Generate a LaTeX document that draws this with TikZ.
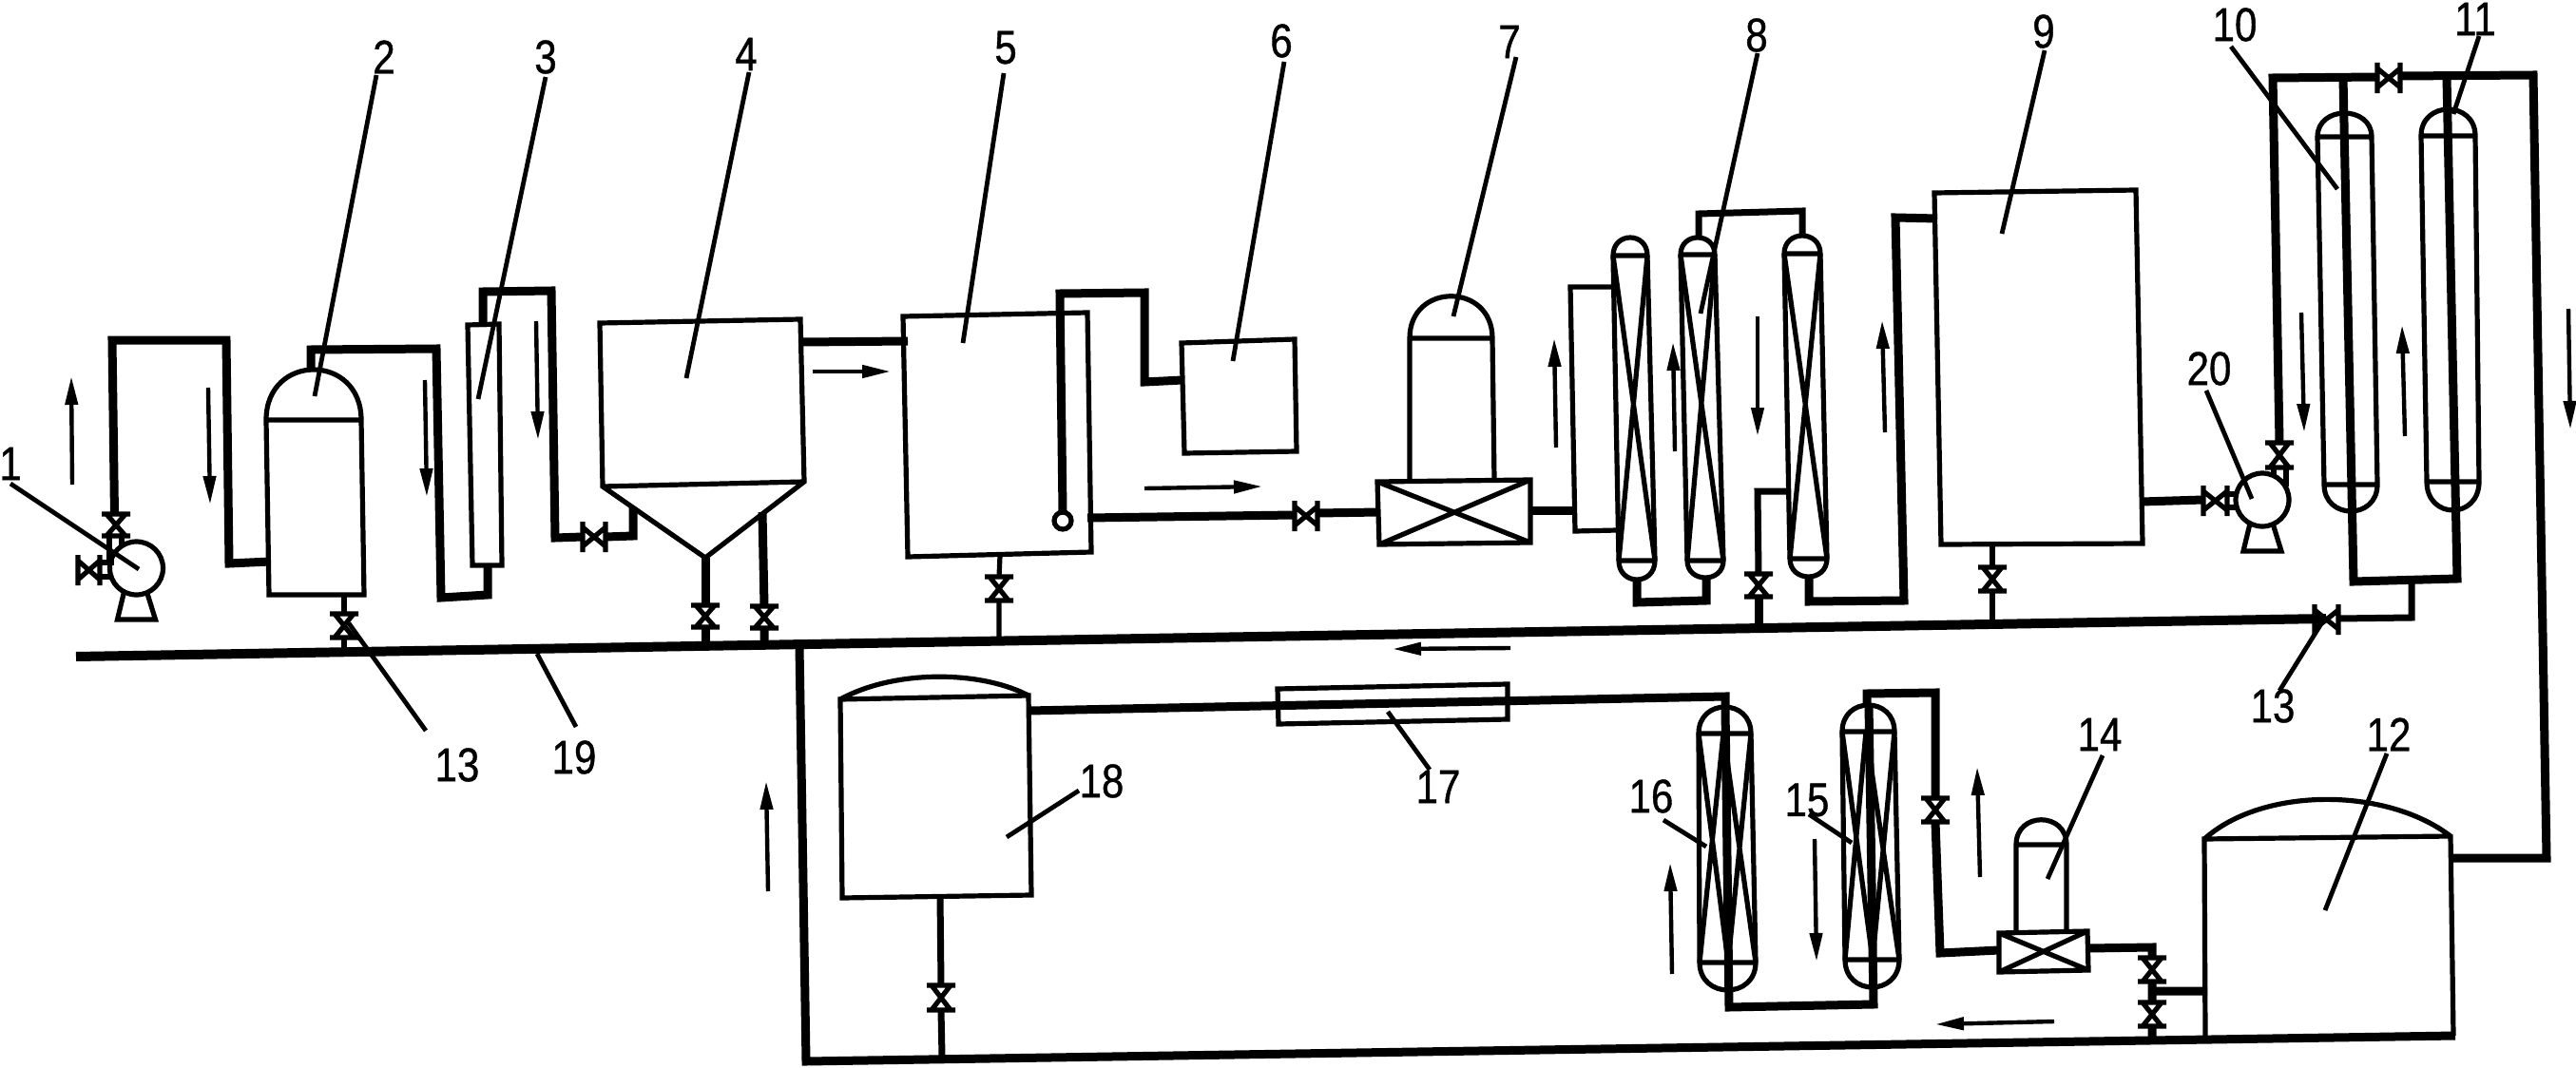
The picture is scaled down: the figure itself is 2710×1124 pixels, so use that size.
\documentclass[tikz,border=0pt]{standalone}
\usepackage{fontspec}
\setmainfont{Liberation Sans}
\newfontfamily\labfont[FakeStretch=0.84,FakeBold=0.8]{Liberation Sans}
\usetikzlibrary{arrows.meta}
\tikzset{
 wall/.style={line width=5.2pt,line join=miter},
 pipe/.style={line width=9pt,line join=miter},
 midpipe/.style={line width=7pt,line join=miter},
 leader/.style={line width=4.8pt},
 flow/.style={line width=4.4pt,-{Triangle[length=30pt,width=13pt]}},
 lab/.style={font=\labfont\fontsize{50}{54}\selectfont,inner sep=0pt},
}
\newcommand{\vvalve}[3]{%
 \draw[wall] (#1-15,#2)--(#1+15,#2) (#1-15,#3)--(#1+15,#3)
  (#1-10,#2)--(#1+10,#3) (#1+10,#2)--(#1-10,#3);}
\newcommand{\hvalve}[3]{%
 \draw[wall] (#1,#2-16)--(#1,#2+16) (#3,#2-16)--(#3,#2+16)
  (#1,#2-10)--(#3,#2+10) (#1,#2+10)--(#3,#2-10);}
\newcommand{\capsule}[8]{%
 \draw[wall] (#1,#6) .. controls (#1,{#6-(#6-#5)*4/3}) and (#2,{#6-(#6-#5)*4/3}) .. (#2,#6)
   -- (#4,#7) .. controls (#4,{#7+(#8-#7)*4/3}) and (#3,{#7+(#8-#7)*4/3}) .. (#3,#7) -- cycle
   (#1,#6)--(#2,#6) (#3,#7)--(#4,#7);}
\newcommand{\crossin}[6]{%
 \draw[wall] (#1,#5)--(#4,#6) (#2,#5)--(#3,#6);}
\newcommand{\pumpat}[3]{%
 \draw[wall] (#1,#2) circle (#3);
 \draw[wall] (#1-13,#2+#3-3)--(#1-20,#2+#3+26)--(#1+20,#2+#3+26)--(#1+11,#2+#3-3);}
\begin{document}
\begin{tikzpicture}[x=1pt,y=-1pt]
\useasboundingbox (0,0) rectangle (2710,1124);
% main header 19
\draw[line width=10pt] (80,691)--(2447,651);
\draw[midpipe] (2460,651)--(2537,650)--(2537,613);
\hvalve{2435}{652}{2460}
% bottom loop
\draw[pipe] (841,680)--(848,1117)--(2583,1090);
% pump 1
\pumpat{143.5}{598}{28}
\draw[pipe] (120.5,542)--(118,358)--(238,358)--(241,593)--(284,591);
\vvalve{122}{541}{564}
\draw[wall] (115,564)--(115,590) (128,564)--(128,575);
\hvalve{82}{600}{105}
\draw[wall] (105,592)--(120,592) (105,607)--(116,607);
% tank 2
\capsule{280}{380}{283}{383}{389}{442}{626}{626}
\draw[pipe] (327,390)--(327,368)--(459,367)--(464,629)--(513,626)--(513,594);
\draw[wall] (362,626)--(362,646) (362,671)--(362,684);
\vvalve{362}{646}{671}
% column 3
\draw[wall] (492,342)--(525,341)--(528,595)--(497,595)--cycle;
\draw[pipe] (508,344)--(508,307)--(580,306)--(584,566)--(613,565);
\hvalve{613}{565}{637}
\draw[pipe] (637,565)--(666,564)--(666,534);
% tank 4
\draw[wall] (631,340)--(842,336)--(846,507)--(742,587)--(634,512)--cycle (634,512)--(846,507);
\draw[pipe] (742,587)--(742,637) (742,660)--(742,678);
\vvalve{742}{637}{660}
\draw[pipe] (802,539)--(804,638) (804,661)--(804,675);
\vvalve{804}{638}{661}
\draw[pipe] (844,360)--(955,359);
% tank 5
\draw[wall] (950,333)--(1144,329)--(1148,581)--(955,586)--cycle;
\draw[pipe] (1118,538)--(1115,309)--(1204,308)--(1204,402)--(1244,400);
\draw[wall,fill=white] (1118,548) circle (9);
\draw[wall] (1052,585)--(1051,607) (1051,632)--(1051,672);
\vvalve{1051}{607}{632}
\draw[pipe] (1144,545)--(1362,542);
\hvalve{1362}{543}{1386}
\draw[pipe] (1386,540)--(1451,539);
% tank 6
\draw[wall] (1243,361)--(1362,357)--(1364,475)--(1246,477)--cycle;
% reactor 7
\draw[wall] (1483,505)--(1483,356) .. controls (1483,297) and (1570,297) .. (1570,356)--(1572,505) (1483,356)--(1570,356);
\draw[wall] (1449,507)--(1610,505)--(1610,571)--(1451,573)--cycle (1449,507)--(1610,571) (1610,505)--(1451,573);
\draw[pipe] (1609,537)--(1657,537);
\draw[wall] (1698,302)--(1652,302)--(1657,559)--(1701,558);
% columns 8
\capsule{1697}{1733}{1703}{1741}{250}{269}{590}{610}
\crossin{1697}{1733}{1703}{1741}{269}{590}
\capsule{1768}{1804}{1775}{1813}{250}{268}{590}{608}
\crossin{1768}{1804}{1775}{1813}{268}{590}
\capsule{1877}{1915}{1883}{1922}{248}{267}{588}{607}
\crossin{1877}{1915}{1883}{1922}{267}{588}
\draw[pipe] (1722,610)--(1722,634)--(1795,632)--(1795,608);
\draw[midpipe] (1787,250)--(1787,225)--(1896,222)--(1896,248);
\draw[midpipe] (1883,517)--(1849,517)--(1850,604);
\vvalve{1850}{604}{628}
\draw[pipe] (1850,628)--(1850,658);
\draw[pipe] (1903,607)--(1903,633)--(2003,632)--(1994,229)--(2038,230);
% tank 9
\draw[wall] (2035,203)--(2247,200)--(2254,572)--(2042,573)--cycle;
\draw[wall] (2096,573)--(2096,597) (2096,622)--(2096,656);
\vvalve{2096}{597}{622}
\draw[pipe] (2253,528)--(2318,526);
\hvalve{2318}{527}{2343}
% pump 20
\pumpat{2380}{526}{28}
\draw[wall] (2343,520)--(2354,520) (2343,534)--(2353,534);
\draw[pipe] (2398,466)--(2391,82)--(2501,81) (2525,80)--(2665,79)--(2679,903)--(2578,903);
\hvalve{2501}{82}{2525}
\vvalve{2398}{466}{492}
\draw[wall] (2392,492)--(2392,500) (2405,492)--(2405,512);
% columns 10, 11
\capsule{2438}{2495}{2445}{2501}{119}{144}{510}{538}
\capsule{2547}{2604}{2553}{2608}{115}{143}{507}{537}
\draw[pipe] (2465,82)--(2476,612)--(2585,609)--(2574,82);
% tank 12
\draw[wall] (2319,883) .. controls (2380,828) and (2510,828) .. (2578,880)--(2581,1090) (2320,1092)--(2319,883)--(2578,880);
% reactor 14
\draw[wall] (2121,982)--(2121,889) .. controls (2121,854) and (2174,854) .. (2174,889)--(2174,980) (2121,889)--(2174,889);
\draw[wall] (2103,982)--(2196,980)--(2197,1021)--(2103,1023)--cycle (2103,982)--(2197,1021) (2196,980)--(2103,1023);
\draw[pipe] (2197,998)--(2264,997)--(2264,1008) (2264,1033)--(2264,1055) (2264,1043)--(2322,1043) (2264,1080)--(2264,1092);
\vvalve{2264}{1008}{1033}
\vvalve{2264}{1055}{1080}
% columns 15, 16
\capsule{1938}{1993}{1941}{1998}{742}{770}{1010}{1039}
\draw[wall] (1938,770)--(1970,1010) (1993,770)--(1970,1010) (1963,770)--(1941,1010) (1963,770)--(1998,1010);
\capsule{1787}{1842}{1788}{1847}{744}{772}{1013}{1042}
\draw[wall] (1787,772)--(1818,1013) (1842,772)--(1818,1013) (1813,772)--(1788,1013) (1813,772)--(1847,1013);
\draw[pipe] (1815,745)--(1819,1060)--(1971,1057)--(1966,742);
\draw[pipe] (1964,742)--(1964,730)--(2036,729)--(2036,840);
\vvalve{2036}{840}{865}
\draw[pipe] (2036,865)--(2041,1003)--(2103,1000);
% line 17, tank 18
\draw[wall] (1344,725)--(1586,720)--(1586,757)--(1345,762)--cycle;
\draw[pipe] (1082,748)--(1815,733)--(1815,745);
\draw[wall] (884,736)--(1082,732)--(1085,942)--(886,945)--cycle;
\draw[wall] (884,736) .. controls (940,705) and (1030,705) .. (1082,732);
\draw[midpipe] (989,942)--(990,1037) (990,1063)--(991,1112);
\vvalve{990}{1037}{1063}
% flow arrows
\draw[flow] (76,510)--(75,396);
\draw[flow] (219,408)--(221,531);
\draw[flow] (447,400)--(449,523);
\draw[flow] (564,338)--(566,463);
\draw[flow] (855,391)--(937,391);
\draw[flow] (1204,514)--(1328,512);
\draw[flow] (1637,471)--(1635,356);
\draw[flow] (1762,475)--(1760,360);
\draw[flow] (1849,333)--(1849,459);
\draw[flow] (1983,455)--(1980,337);
\draw[flow] (2421,329)--(2424,455);
\draw[flow] (2530,459)--(2527,342);
\draw[flow] (2702,325)--(2704,452);
\draw[flow] (1589,682)--(1465,683);
\draw[flow] (808,938)--(806,822);
\draw[flow] (1759,1025)--(1757,908);
\draw[flow] (1909,883)--(1911,1012);
\draw[flow] (2083,923)--(2080,807);
\draw[flow] (2161,1075)--(2036,1078);
% labels
\node[lab] (n1) at (11,488) {1};
\node[lab] (n2) at (404,60) {2};
\node[lab] (n3) at (574,60) {3};
\node[lab] (n4) at (785,57) {4};
\node[lab] (n5) at (1058,50) {5};
\node[lab] (n6) at (1348,43) {6};
\node[lab] (n7) at (1588,44) {7};
\node[lab] (n8) at (1848,37) {8};
\node[lab] (n9) at (2150,33) {9};
\node[lab] (n10) at (2351,26) {10};
\node[lab] (n11) at (2604,20) {11};
\node[lab] (n12) at (2513,773) {12};
\node[lab] (n13a) at (481,805) {13};
\node[lab] (n13b) at (2391,743) {13};
\node[lab] (n14) at (2209,773) {14};
\node[lab] (n15) at (1901,842) {15};
\node[lab] (n16) at (1737,838) {16};
\node[lab] (n17) at (1513,828) {17};
\node[lab] (n18) at (1159,822) {18};
\node[lab] (n19) at (604,797) {19};
\node[lab] (n20) at (2324,388) {20};
% leaders
\draw[leader] (11,509)--(146,599);
\draw[leader] (396,79)--(331,417);
\draw[leader] (574,81)--(503,420);
\draw[leader] (788,76)--(722,398);
\draw[leader] (1056,77)--(1013,361);
\draw[leader] (1351,65)--(1297,380);
\draw[leader] (1595,60)--(1529,333);
\draw[leader] (1849,56)--(1789,330);
\draw[leader] (2151,53)--(2106,246);
\draw[leader] (2347,49)--(2459,199);
\draw[leader] (2608,38)--(2581,120);
\draw[leader] (2511,793)--(2446,958);
\draw[leader] (367,656)--(448,769);
\draw[leader] (2441,658)--(2398,727);
\draw[leader] (2212,795)--(2154,925);
\draw[leader] (1903,857)--(1948,887);
\draw[leader] (1750,863)--(1795,891);
\draw[leader] (1460,749)--(1504,810);
\draw[leader] (1059,881)--(1135,832);
\draw[leader] (565,688)--(606,765);
\draw[leader] (2321,411)--(2369,525);
\end{tikzpicture}
\end{document}
